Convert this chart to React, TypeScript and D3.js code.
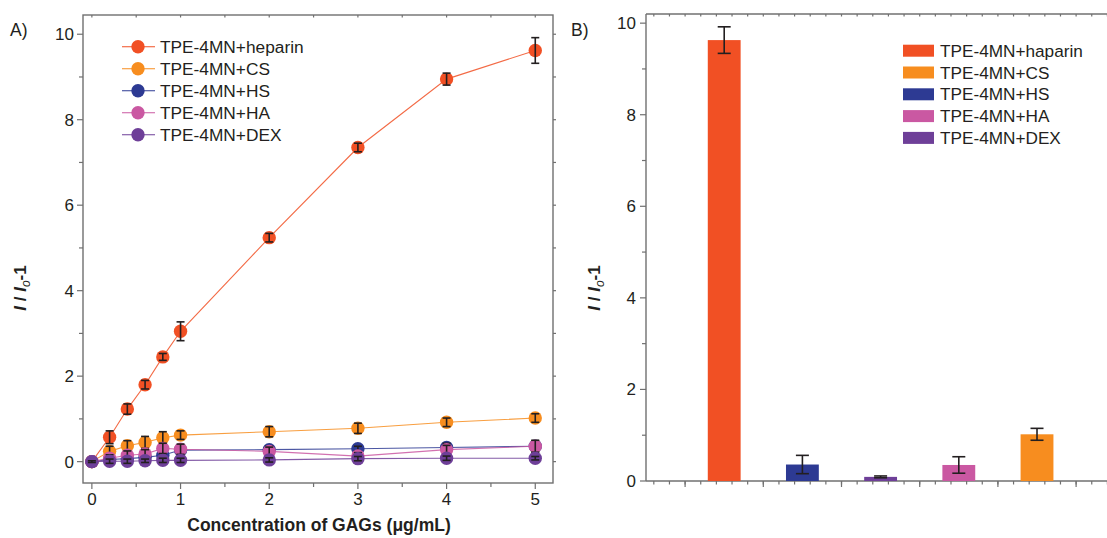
import React from "react";
import * as d3 from "d3";

// ---------- Data ----------
const concentrations = [0, 0.2, 0.4, 0.6, 0.8, 1, 2, 3, 4, 5];
const seriesNames = ["TPE-4MN+heparin", "TPE-4MN+CS", "TPE-4MN+HS", "TPE-4MN+HA", "TPE-4MN+DEX"];
const heparinVals = [0, 0.57, 1.23, 1.8, 2.45, 3.05, 5.24, 7.35, 8.95, 9.62];
const heparinErr = [0.02, 0.15, 0.12, 0.1, 0.08, 0.22, 0.1, 0.1, 0.14, 0.3];
const csVals = [0, 0.24, 0.37, 0.45, 0.56, 0.62, 0.7, 0.78, 0.92, 1.02];
const csErr = [0.02, 0.12, 0.12, 0.14, 0.14, 0.1, 0.12, 0.12, 0.1, 0.1];
const hsVals = [0, 0.05, 0.07, 0.1, 0.15, 0.27, 0.28, 0.3, 0.33, 0.36];
const hsErr = [0.02, 0.1, 0.1, 0.1, 0.1, 0.12, 0.08, 0.06, 0.1, 0.13];
const haVals = [0, 0.08, 0.15, 0.18, 0.31, 0.29, 0.24, 0.13, 0.28, 0.36];
const haErr = [0.02, 0.08, 0.1, 0.1, 0.12, 0.12, 0.1, 0.08, 0.1, 0.14];
const dexVals = [0, 0.01, 0.01, 0.02, 0.03, 0.03, 0.04, 0.07, 0.08, 0.08];
const dexErr = [0.02, 0.05, 0.05, 0.04, 0.05, 0.05, 0.05, 0.05, 0.05, 0.04];

const barLegendNames = ["TPE-4MN+haparin", "TPE-4MN+CS", "TPE-4MN+HS", "TPE-4MN+HA", "TPE-4MN+DEX"];
const barCategories = ["haparin", "HS", "DEX", "HA", "CS"];
const barPositions = [1, 2, 3, 4, 5];
const barValues = [9.63, 0.36, 0.09, 0.35, 1.02];
const barErrors = [0.29, 0.2, 0.02, 0.18, 0.13];

const leftYTicks = [0, 2, 4, 6, 8, 10];
const leftXTicks = [0, 1, 2, 3, 4, 5];
const rightYTicks = [0, 2, 4, 6, 8, 10];

const COLORS: Record<string, string> = {
  heparin: "#F15024",
  haparin: "#F15024",
  CS: "#F78D1F",
  HS: "#2D3A93",
  HA: "#CA58A2",
  DEX: "#6E3F98",
};
const seriesKeys = ["heparin", "CS", "HS", "HA", "DEX"];
const legendBarKeys = ["haparin", "CS", "HS", "HA", "DEX"];

const FONT = "'Liberation Sans', Arial, Helvetica, sans-serif";
const AXIS = "#707070";
const INK = "#231F20";

export default function App() {
  const seriesVals = [heparinVals, csVals, hsVals, haVals, dexVals];
  const seriesErrs = [heparinErr, csErr, hsErr, haErr, dexErr];

  // ----- Left panel scales -----
  const L = { left: 83, right: 553, top: 15, bottom: 483 };
  const xL = d3.scaleLinear().domain([-0.1, 5.2]).range([L.left, L.right]);
  const yL = d3.scaleLinear().domain([-0.5, 10.45]).range([L.bottom, L.top]);
  const line = d3
    .line<number>()
    .x((_, i) => xL(concentrations[i]))
    .y((d) => yL(d));

  const xMinorL = d3.range(0, 5.01, 0.5);
  const yMinorL = d3.range(0, 10.01, 1);

  // ----- Right panel scales -----
  const R = { left: 646, right: 1107, top: 14, bottom: 481 };
  const xR = d3.scaleLinear().domain([0, 5.895]).range([R.left, R.right]);
  const yR = d3.scaleLinear().domain([0, 10.2]).range([R.bottom, R.top]);
  const xMajorR = d3.range(0.5, 5.9, 1);
  const xMinorR = d3.range(0.1, 5.9, 0.2);
  const yMinorR = d3.range(0, 10.01, 1);
  const barW = xR(0.42) - xR(0);

  const yTitle = (
    <>
      <tspan fontStyle="italic">I</tspan>
      <tspan> / </tspan>
      <tspan fontStyle="italic">I</tspan>
      <tspan fontSize={12} fontStyle="italic" fontWeight="normal" dy={4}>o</tspan>
      <tspan dy={-4}>-1</tspan>
    </>
  );

  return (
    <svg
      width={1107}
      height={538}
      style={{ position: "absolute", left: 0, top: 0, background: "#fff" }}
      fontFamily={FONT}
    >
      <rect width={1107} height={538} fill="#fff" />
      {/* ================= Panel A ================= */}
      <text x={10} y={36} fontSize={17.5} fill={INK}>A)</text>

      {/* frame */}
      <rect
        x={L.left}
        y={L.top}
        width={L.right - L.left}
        height={L.bottom - L.top}
        fill="none"
        stroke={AXIS}
        strokeWidth={1.4}
      />
      {xMinorL.map((t) => (
        <line key={"bx" + t} x1={xL(t)} x2={xL(t)} y1={L.bottom} y2={L.bottom + (Number.isInteger(t) ? 6 : 4)} stroke={AXIS} strokeWidth={1.2} />
      ))}
      {xMinorL.map((t) => (
        <line key={"tx" + t} x1={xL(t)} x2={xL(t)} y1={L.top} y2={L.top + 2.5} stroke={AXIS} strokeWidth={1.2} />
      ))}
      {leftXTicks.map((t) => (
        <text key={"bxl" + t} x={xL(t)} y={505} fontSize={17} textAnchor="middle" fill={INK}>{t}</text>
      ))}
      {yMinorL.map((t) => (
        <line key={"ly" + t} x1={L.left} x2={L.left - (t % 2 === 0 ? 6 : 4)} y1={yL(t)} y2={yL(t)} stroke={AXIS} strokeWidth={1.2} />
      ))}
      {yMinorL.map((t) => (
        <line key={"ry" + t} x1={L.right} x2={L.right + 3} y1={yL(t)} y2={yL(t)} stroke={AXIS} strokeWidth={1.2} />
      ))}
      {leftYTicks.map((t) => (
        <text key={"lyl" + t} x={74} y={yL(t) + 6} fontSize={17} textAnchor="end" fill={INK}>{t}</text>
      ))}

      {/* axis titles */}
      <text x={319} y={531} fontSize={17.5} fontWeight="bold" textAnchor="middle" fill={INK}>
        Concentration of GAGs (μg/mL)
      </text>
      <text transform={`translate(26,288) rotate(-90)`} fontSize={17} fontWeight="bold" textAnchor="middle" fill={INK}>
        {yTitle}
      </text>

      {/* series */}
      {seriesKeys.map((k, si) => (
        <g key={"s" + k}>
          <path d={line(seriesVals[si]) || ""} fill="none" stroke={COLORS[k]} strokeWidth={1.1} strokeOpacity={0.85} />
          {seriesVals[si].map((v, i) => (
            <circle key={i} cx={xL(concentrations[i])} cy={yL(v)} r={6.7} fill={COLORS[k]} />
          ))}
          {seriesVals[si].map((v, i) => {
            const cx = xL(concentrations[i]);
            const e = seriesErrs[si][i];
            const y1 = yL(v + e);
            const y2 = yL(v - e);
            return (
              <g key={"e" + i} stroke={INK} strokeWidth={1.6}>
                <line x1={cx} x2={cx} y1={y1} y2={y2} />
                <line x1={cx - 4} x2={cx + 4} y1={y1} y2={y1} />
                <line x1={cx - 4} x2={cx + 4} y1={y2} y2={y2} />
              </g>
            );
          })}
        </g>
      ))}

      {/* legend A */}
      {seriesNames.map((n, i) => {
        const cy = 46.7 + i * 22;
        return (
          <g key={"lg" + n}>
            <line x1={122} x2={155} y1={cy} y2={cy} stroke={COLORS[seriesKeys[i]]} strokeWidth={1.1} />
            <circle cx={138} cy={cy} r={6.7} fill={COLORS[seriesKeys[i]]} />
            <text x={160} y={cy + 6} fontSize={17.3} fill={INK}>{n}</text>
          </g>
        );
      })}

      {/* ================= Panel B ================= */}
      <text x={571} y={36} fontSize={17.5} fill={INK}>B)</text>
      <line x1={R.left} x2={R.right} y1={R.top} y2={R.top} stroke={AXIS} strokeWidth={1.4} />
      <line x1={R.left} x2={R.left} y1={R.top} y2={R.bottom} stroke={AXIS} strokeWidth={1.4} />
      <line x1={R.left} x2={R.right} y1={R.bottom} y2={R.bottom} stroke={AXIS} strokeWidth={1.4} />
      {xMinorR.map((t) => (
        <line key={"rbx" + t} x1={xR(t)} x2={xR(t)} y1={R.bottom} y2={R.bottom + 3.5} stroke={AXIS} strokeWidth={1.2} />
      ))}
      {xMajorR.map((t) => (
        <line key={"rbM" + t} x1={xR(t)} x2={xR(t)} y1={R.bottom} y2={R.bottom + 6} stroke={AXIS} strokeWidth={1.2} />
      ))}
      {xMinorR.map((t) => (
        <line key={"rtx" + t} x1={xR(t)} x2={xR(t)} y1={R.top} y2={R.top + 2.5} stroke={AXIS} strokeWidth={1.2} />
      ))}
      {yMinorR.map((t) => (
        <line key={"rly" + t} x1={R.left} x2={R.left - (t % 2 === 0 ? 6 : 4)} y1={yR(t)} y2={yR(t)} stroke={AXIS} strokeWidth={1.2} />
      ))}
      {rightYTicks.map((t) => (
        <text key={"ryl" + t} x={636} y={yR(t) + 6} fontSize={17} textAnchor="end" fill={INK}>{t}</text>
      ))}
      <text transform={`translate(600,288) rotate(-90)`} fontSize={17} fontWeight="bold" textAnchor="middle" fill={INK}>
        {yTitle}
      </text>

      {/* bars */}
      {barCategories.map((c, i) => {
        const cx = xR(barPositions[i]);
        const v = barValues[i];
        const e = barErrors[i];
        const y1 = yR(v + e);
        const y2 = yR(v - e);
        return (
          <g key={"bar" + c}>
            <rect x={cx - barW / 2} y={yR(v)} width={barW} height={yR(0) - yR(v)} fill={COLORS[c]} />
            <g stroke={INK} strokeWidth={1.6}>
              <line x1={cx} x2={cx} y1={y1} y2={y2} />
              <line x1={cx - 6.5} x2={cx + 6.5} y1={y1} y2={y1} />
              <line x1={cx - 6.5} x2={cx + 6.5} y1={y2} y2={y2} />
            </g>
          </g>
        );
      })}

      {/* legend B */}
      {barLegendNames.map((n, i) => {
        const cy = 50.7 + i * 21.8;
        return (
          <g key={"lgb" + n}>
            <rect x={903} y={cy - 6} width={31} height={12} fill={COLORS[legendBarKeys[i]]} />
            <text x={940} y={cy + 6} fontSize={17.2} fill={INK}>{n}</text>
          </g>
        );
      })}
    </svg>
  );
}
